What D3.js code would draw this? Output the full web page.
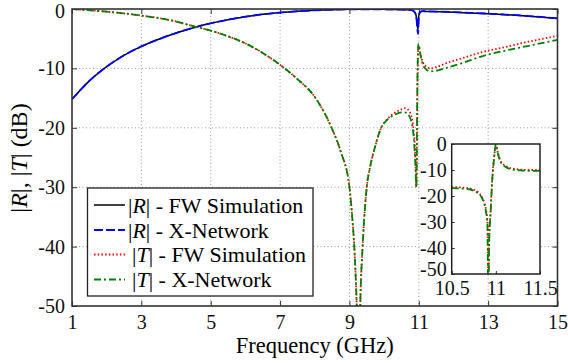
<!DOCTYPE html>
<html>
<head>
<meta charset="utf-8">
<script src="https://cdnjs.cloudflare.com/ajax/libs/d3/7.8.5/d3.min.js"></script>
<style>
  body { margin: 0; background: #fff; }
  svg { display: block; font-family: "Liberation Serif", "Times New Roman", serif; }
</style>
</head>
<body>
<div id="chart"></div>
<script>
// main plot: |R| curves
const freqR = [1, 1.5, 2, 2.5, 3, 3.5, 4, 4.5, 5, 5.5, 6, 6.5, 7, 7.5, 8, 8.5, 9, 9.5, 10, 10.5, 10.8, 10.88, 10.93, 10.96, 10.98, 11.0, 11.04, 11.1, 11.3, 12, 12.5, 13, 13.5, 14, 14.5, 15];
const rFW = [-15.2, -12.1, -9.7, -7.8, -6.3, -5.1, -4.05, -3.15, -2.4, -1.8, -1.3, -0.9, -0.6, -0.38, -0.22, -0.12, -0.06, -0.04, -0.06, -0.1, -0.2, -0.5, -1.3, -3.0, -3.4, -1.2, -0.5, -0.38, -0.42, -0.55, -0.68, -0.8, -0.95, -1.15, -1.35, -1.6];
const rXN = [-15.2, -12.1, -9.7, -7.8, -6.3, -5.1, -4.05, -3.15, -2.4, -1.8, -1.3, -0.9, -0.6, -0.38, -0.22, -0.12, -0.06, -0.04, -0.06, -0.1, -0.2, -0.5, -1.4, -3.5, -4.2, -1.3, -0.5, -0.36, -0.4, -0.52, -0.65, -0.78, -0.93, -1.12, -1.33, -1.58];

// main plot: |T| curves
const freqT = [1, 2, 3, 4, 4.5, 5, 5.5, 6, 6.5, 7, 7.5, 8, 8.5, 8.75, 9, 9.08, 9.14, 9.2, 9.27, 9.32, 9.38, 9.5, 9.6, 9.75, 9.9, 10.1, 10.3, 10.5, 10.6, 10.7, 10.8, 10.86, 10.9, 10.93, 10.96, 10.99, 11.05, 11.12, 11.2, 11.32, 11.5, 11.8, 12.3, 12.8, 13.5, 14, 14.5, 15];
const tFW = [0, -0.45, -1.1, -2.1, -2.9, -3.65, -4.6, -5.8, -7.4, -9.4, -11.8, -14.8, -20.2, -24, -30, -35, -40, -48, -62, -48, -40, -30, -26.5, -23, -20.2, -18.5, -17.5, -16.9, -16.7, -17.0, -18.4, -21, -24.5, -30, -13, -6.3, -7.6, -9.0, -9.6, -10.0, -9.8, -9.1, -8.2, -7.3, -6.4, -5.7, -5.1, -4.5];
const tXN = [0, -0.45, -1.1, -2.1, -2.9, -3.65, -4.6, -5.8, -7.4, -9.4, -11.8, -14.8, -20.2, -24, -30, -35, -40, -48, -62, -48, -40, -30, -26.5, -23, -20.2, -18.6, -17.8, -17.4, -17.4, -17.8, -19.3, -22, -26, -30, -12, -5.8, -7.8, -9.4, -10.1, -10.5, -10.4, -9.9, -9.0, -8.0, -7.0, -6.4, -5.8, -5.2];

// inset: |T| around the resonance
const insetFreq = [10.5, 10.6, 10.7, 10.75, 10.8, 10.84, 10.87, 10.89, 10.905, 10.915, 10.925, 10.94, 10.96, 10.98, 11.0, 11.02, 11.05, 11.1, 11.15, 11.2, 11.3, 11.4, 11.5];
const insetTfw = [-16.6, -16.7, -17.0, -17.6, -18.6, -20.2, -22.6, -25.5, -30, -58, -36, -26, -13, -5.2, -0.3, -3.0, -6.2, -8.2, -9.1, -9.5, -9.9, -10.0, -10.0];
const insetTxn = [-17.0, -17.1, -17.4, -18.0, -19.0, -20.6, -23.2, -26.5, -31, -60, -37, -27, -13.5, -5.5, -0.2, -3.3, -6.6, -8.6, -9.5, -9.9, -10.2, -10.3, -10.3];

const xTicks = [1, 3, 5, 7, 9, 11, 13, 15];
const yTicks = [0, -10, -20, -30, -40, -50];
const insetXTicks = [10.5, 11, 11.5];
const insetYTicks = [0, -10, -20, -30, -40, -50];

const seriesNames = ['R', 'R', 'T', 'T'];
const seriesLabels = [' - FW Simulation', ' - X-Network', ' - FW Simulation', ' - X-Network'];

const W = 568, H = 363;
const margin = { top: 9, right: 10.5, bottom: 57, left: 72 };
const styles = [
  { color: '#000000', dash: null, width: 1.5 },
  { color: '#0000ff', dash: '9,3', width: 1.8 },
  { color: '#ff0000', dash: '1.5,2.2', width: 1.8 },
  { color: '#008000', dash: '7,3,2,3', width: 1.8 }
];

const svg = d3.select('#chart').append('svg')
  .attr('width', W)
  .attr('height', H);

const x = d3.scaleLinear().domain([1, 15]).range([margin.left, W - margin.right]);
const y = d3.scaleLinear().domain([-50, 0]).range([H - margin.bottom, margin.top]);

svg.append('clipPath').attr('id', 'clipMain')
  .append('rect')
  .attr('x', x(1)).attr('y', y(0))
  .attr('width', x(15) - x(1)).attr('height', y(-50) - y(0));

// grid
const grid = svg.append('g')
  .attr('stroke', '#9a9a9a')
  .attr('stroke-width', 1)
  .attr('stroke-dasharray', '1,2.5');
grid.selectAll('.gx').data(xTicks.slice(1, -1)).enter().append('line')
  .attr('x1', d => x(d)).attr('x2', d => x(d))
  .attr('y1', y(0)).attr('y2', y(-50));
grid.selectAll('.gy').data(yTicks.slice(1, -1)).enter().append('line')
  .attr('x1', x(1)).attr('x2', x(15))
  .attr('y1', d => y(d)).attr('y2', d => y(d));

// axes (ticks inward)
const tickLen = 5;
svg.append('g')
  .attr('transform', `translate(0,${y(-50)})`)
  .call(d3.axisBottom(x).tickValues(xTicks).tickSizeInner(-tickLen).tickSizeOuter(0).tickPadding(9))
  .call(g => g.select('.domain').remove());
svg.append('g')
  .attr('transform', `translate(0,${y(0)})`)
  .call(d3.axisTop(x).tickValues(xTicks).tickSizeInner(-tickLen).tickSizeOuter(0).tickFormat(''))
  .call(g => g.select('.domain').remove());
svg.append('g')
  .attr('transform', `translate(${x(1)},0)`)
  .call(d3.axisLeft(y).tickValues(yTicks).tickSizeInner(-tickLen).tickSizeOuter(0).tickPadding(7).tickFormat(d => String(d)))
  .call(g => g.select('.domain').remove())
  .call(g => g.selectAll('.tick text').filter(d => d === 0).attr('dy', '0.42em'));
svg.append('g')
  .attr('transform', `translate(${x(15)},0)`)
  .call(d3.axisRight(y).tickValues(yTicks).tickSizeInner(-tickLen).tickSizeOuter(0).tickFormat(''))
  .call(g => g.select('.domain').remove());

svg.selectAll('.tick text')
  .attr('font-size', 20)
  .attr('font-family', '"Liberation Serif", serif')
  .attr('fill', '#111');
svg.selectAll('.tick line').attr('stroke', '#333');

// curves
const lineR = d3.line().x((d, i) => x(freqR[i])).y(d => y(d)).curve(d3.curveMonotoneX);
const lineT = d3.line().x((d, i) => x(freqT[i])).y(d => y(d)).curve(d3.curveMonotoneX);
const curves = svg.append('g').attr('clip-path', 'url(#clipMain)');
[[rFW, lineR], [rXN, lineR], [tFW, lineT], [tXN, lineT]].forEach(([vals, gen], k) => {
  curves.append('path')
    .attr('d', gen(vals))
    .attr('fill', 'none')
    .attr('stroke', styles[k].color)
    .attr('stroke-width', styles[k].width)
    .attr('stroke-dasharray', styles[k].dash)
    .attr('stroke-linejoin', 'round');
});

// frame
svg.append('rect')
  .attr('x', x(1)).attr('y', y(0))
  .attr('width', x(15) - x(1)).attr('height', y(-50) - y(0))
  .attr('fill', 'none')
  .attr('stroke', '#333')
  .attr('stroke-width', 1.6);

// axis titles
svg.append('text')
  .attr('x', (x(1) + x(15)) / 2)
  .attr('y', 353)
  .attr('text-anchor', 'middle')
  .attr('font-size', 22.5)
  .text('Frequency (GHz)');

const yt = svg.append('text')
  .attr('transform', 'translate(27,158) rotate(-90)')
  .attr('text-anchor', 'middle')
  .attr('font-size', 24);
yt.append('tspan').text('|');
yt.append('tspan').attr('font-style', 'italic').text('R');
yt.append('tspan').text('|, |');
yt.append('tspan').attr('font-style', 'italic').text('T');
yt.append('tspan').text('| (dB)');

// legend
const lg = svg.append('g');
lg.append('rect')
  .attr('x', 87.5).attr('y', 188)
  .attr('width', 225.5).attr('height', 108)
  .attr('fill', '#fff')
  .attr('stroke', '#222')
  .attr('stroke-width', 1.3);
const rowY = [205, 230, 254.5, 279.5];
seriesNames.forEach((n, k) => {
  lg.append('line')
    .attr('x1', 94).attr('x2', 125)
    .attr('y1', rowY[k]).attr('y2', rowY[k])
    .attr('stroke', styles[k].color)
    .attr('stroke-width', styles[k].width)
    .attr('stroke-dasharray', styles[k].dash);
  const t = lg.append('text')
    .attr('x', k < 2 ? 128 : 132)
    .attr('y', rowY[k] + 7.5)
    .attr('font-size', 22);
  t.append('tspan').text('|');
  t.append('tspan').attr('font-style', 'italic').text(n);
  t.append('tspan').text('|' + seriesLabels[k]);
});

// inset
const ix = d3.scaleLinear().domain([10.5, 11.5]).range([451.7, 540]);
const iy = d3.scaleLinear().domain([-50, 0]).range([274, 144]);

svg.append('rect')
  .attr('x', 421).attr('y', iy(0))
  .attr('width', ix(11.5) - 421).attr('height', iy(-50) - iy(0))
  .attr('fill', '#fff');

svg.append('clipPath').attr('id', 'clipInset')
  .append('rect')
  .attr('x', ix(10.5)).attr('y', iy(0))
  .attr('width', ix(11.5) - ix(10.5)).attr('height', iy(-50) - iy(0));

const inset = svg.append('g');
inset.append('g')
  .attr('transform', `translate(0,${iy(-50)})`)
  .call(d3.axisBottom(ix).tickValues(insetXTicks).tickSizeInner(-3).tickSizeOuter(0).tickPadding(7).tickFormat(d => String(d)))
  .call(g => g.select('.domain').remove());
inset.append('g')
  .attr('transform', `translate(${ix(10.5)},0)`)
  .call(d3.axisLeft(iy).tickValues(insetYTicks).tickSizeInner(-3).tickSizeOuter(0).tickPadding(5).tickFormat(d => String(d)))
  .call(g => g.select('.domain').remove())
  .call(g => g.selectAll('.tick text').filter(d => d === -50).attr('dy', '0.05em'));
inset.selectAll('.tick text')
  .attr('font-size', 20)
  .attr('font-family', '"Liberation Serif", serif')
  .attr('fill', '#111');
inset.selectAll('.tick line').attr('stroke', '#333');

const lineI = d3.line().x((d, i) => ix(insetFreq[i])).y(d => iy(d)).curve(d3.curveMonotoneX);
const icurves = inset.append('g').attr('clip-path', 'url(#clipInset)');
[[insetTfw, 2], [insetTxn, 3]].forEach(([vals, k]) => {
  icurves.append('path')
    .attr('d', lineI(vals))
    .attr('fill', 'none')
    .attr('stroke', styles[k].color)
    .attr('stroke-width', styles[k].width)
    .attr('stroke-dasharray', styles[k].dash);
});

inset.append('rect')
  .attr('x', ix(10.5)).attr('y', iy(0))
  .attr('width', ix(11.5) - ix(10.5)).attr('height', iy(-50) - iy(0))
  .attr('fill', 'none')
  .attr('stroke', '#222')
  .attr('stroke-width', 1.5);
</script>
</body>
</html>
